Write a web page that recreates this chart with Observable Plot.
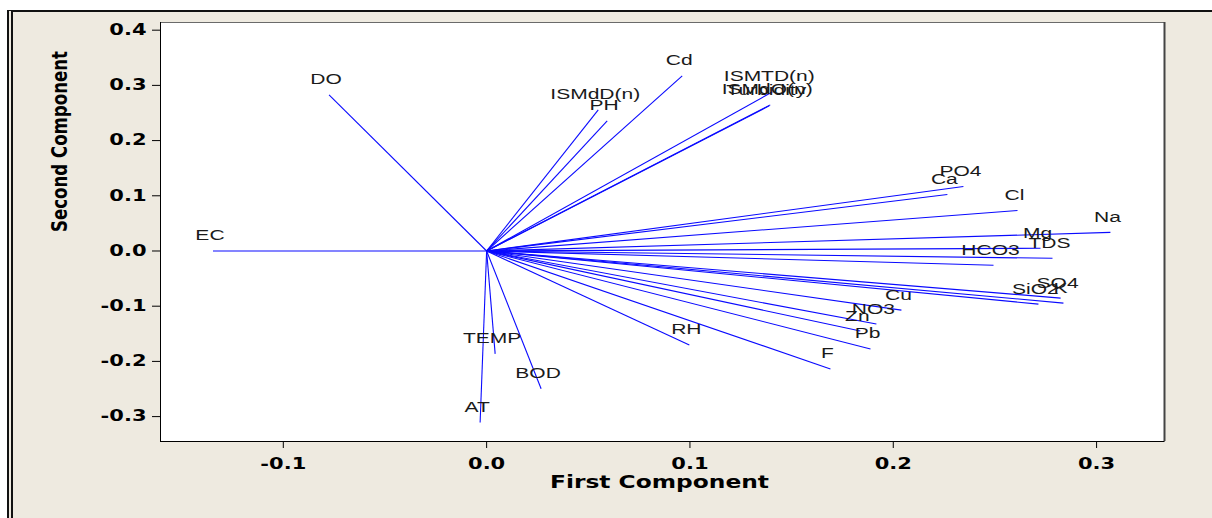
<!DOCTYPE html>
<html>
<head>
<meta charset="utf-8">
<script src="https://cdn.jsdelivr.net/npm/d3@7"></script>
<script src="https://cdn.jsdelivr.net/npm/@observablehq/plot@0.6"></script>
<style>
  html, body { margin: 0; padding: 0; background: #ffffff; }
  #panel {
    position: absolute; left: 7px; top: 10px; width: 1205px; height: 508px;
    box-sizing: border-box; background: #eeeae0;
    border-top: 2px solid #111; border-left: 6px double #111;
  }
  #chart { position: absolute; left: 0; top: 0; }
  #chart svg { color: #000; }
  #chart g[aria-label$="tick label"] { font: bold 15px "DejaVu Sans", sans-serif; fill: #000; }
</style>
</head>
<body>
<div id="panel"></div>
<div id="chart"></div>
<script>
// Loadings of each variable on the first two principal components
const variables = [
  "EC", "DO", "ISMdD(n)", "PH", "Cd", "ISMTD(n)", "Turbidity", "ISMdO(n)",
  "PO4", "Ca", "Cl", "Na", "Mg", "TDS", "HCO3", "SO4", "K", "SiO2",
  "Cu", "NO3", "Zn", "Pb", "F", "RH", "TEMP", "BOD", "AT"
];
const firstComponent = [
  -0.1346, -0.0775, 0.0549, 0.0593, 0.0962, 0.1405, 0.1390, 0.1395,
  0.2345, 0.2266, 0.2611, 0.3068, 0.2724, 0.2783, 0.2493, 0.2823, 0.2837, 0.2714,
  0.2040, 0.1917, 0.1838, 0.1888, 0.1691, 0.0997, 0.0042, 0.0268, -0.0032
];
const secondComponent = [
  0.0, 0.2827, 0.2556, 0.2358, 0.3171, 0.2881, 0.2629, 0.2647,
  0.1167, 0.1023, 0.0734, 0.0337, 0.0049, -0.0132, -0.0258, -0.0853, -0.0944, -0.0962,
  -0.1071, -0.1324, -0.1450, -0.1775, -0.2136, -0.1701, -0.1863, -0.2495, -0.3108
];

const xTicks = [-0.1, 0.0, 0.1, 0.2, 0.3];
const yTicks = [-0.3, -0.2, -0.1, 0.0, 0.1, 0.2, 0.3, 0.4];
const xDomain = [-0.1604, 0.3334];
const yDomain = [-0.3451, 0.4139];
const xTitle = "First Component";
const yTitle = "Second Component";

const loadings = variables.map((name, i) => ({
  name, pc1: firstComponent[i], pc2: secondComponent[i]
}));

const fmt = d => d.toFixed(1);

const svg = Plot.plot({
  width: 1212,
  height: 518,
  marginLeft: 160,
  marginRight: 48,
  marginTop: 22,
  marginBottom: 77,
  style: "background: transparent; overflow: visible;",
  x: { domain: xDomain, axis: null },
  y: { domain: yDomain, axis: null },
  marks: [
    Plot.frame({ fill: "#ffffff", stroke: "#6a6a6a" }),
    Plot.ruleX([xDomain[1]], { stroke: "#444", strokeWidth: 2 }),
    Plot.ruleX([xDomain[0]], { stroke: "#000" }),
    Plot.ruleY([yDomain[0]], { stroke: "#000" }),
    Plot.axisX(xTicks, { anchor: "bottom", tickSize: 7, tickPadding: 10, tickFormat: fmt, label: null }),
    Plot.axisY(yTicks, { anchor: "left", tickSize: 8, tickPadding: 6, tickFormat: fmt, label: null }),
    // one vector per variable, drawn from the origin
    Plot.link(loadings, {
      x1: 0, y1: 0, x2: "pc1", y2: "pc2",
      stroke: "#0a0aff", strokeWidth: 1.1
    }),
    Plot.text(loadings, {
      x: "pc1", y: "pc2", text: "name",
      dx: -3, dy: -15,
      fontFamily: "Liberation Sans, Arial, sans-serif", fontSize: 14, fill: "#1a1a1a"
    }),
    Plot.text([xTitle], {
      frameAnchor: "bottom", dx: -3, dy: 46,
      fontFamily: "DejaVu Sans, sans-serif", fontWeight: "bold", fontSize: 18, fill: "#000"
    }),
    Plot.text([yTitle], {
      frameAnchor: "left", dx: -101, rotate: -90,
      fontFamily: "DejaVu Sans, sans-serif", fontWeight: "bold", fontSize: 22, fill: "#000"
    })
  ]
});

document.getElementById("chart").appendChild(svg);

// Widen the glyphs horizontally to the wide look of the original export
function widen(nodes, factor) {
  nodes.forEach(t => {
    const len = t.getComputedTextLength();
    t.setAttribute("textLength", (len * factor).toFixed(1));
    t.setAttribute("lengthAdjust", "spacingAndGlyphs");
  });
}
function fitLength(node, length) {
  node.setAttribute("textLength", length);
  node.setAttribute("lengthAdjust", "spacingAndGlyphs");
}

widen(svg.querySelectorAll('g[aria-label="x-axis tick label"] text'), 1.4);
widen(svg.querySelectorAll('g[aria-label="y-axis tick label"] text'), 1.4);
const textGroups = svg.querySelectorAll('g[aria-label="text"]');
widen(textGroups[0].querySelectorAll("text"), 1.5);
fitLength(textGroups[1].querySelector("text"), 219);
fitLength(textGroups[2].querySelector("text"), 181);
</script>
</body>
</html>
